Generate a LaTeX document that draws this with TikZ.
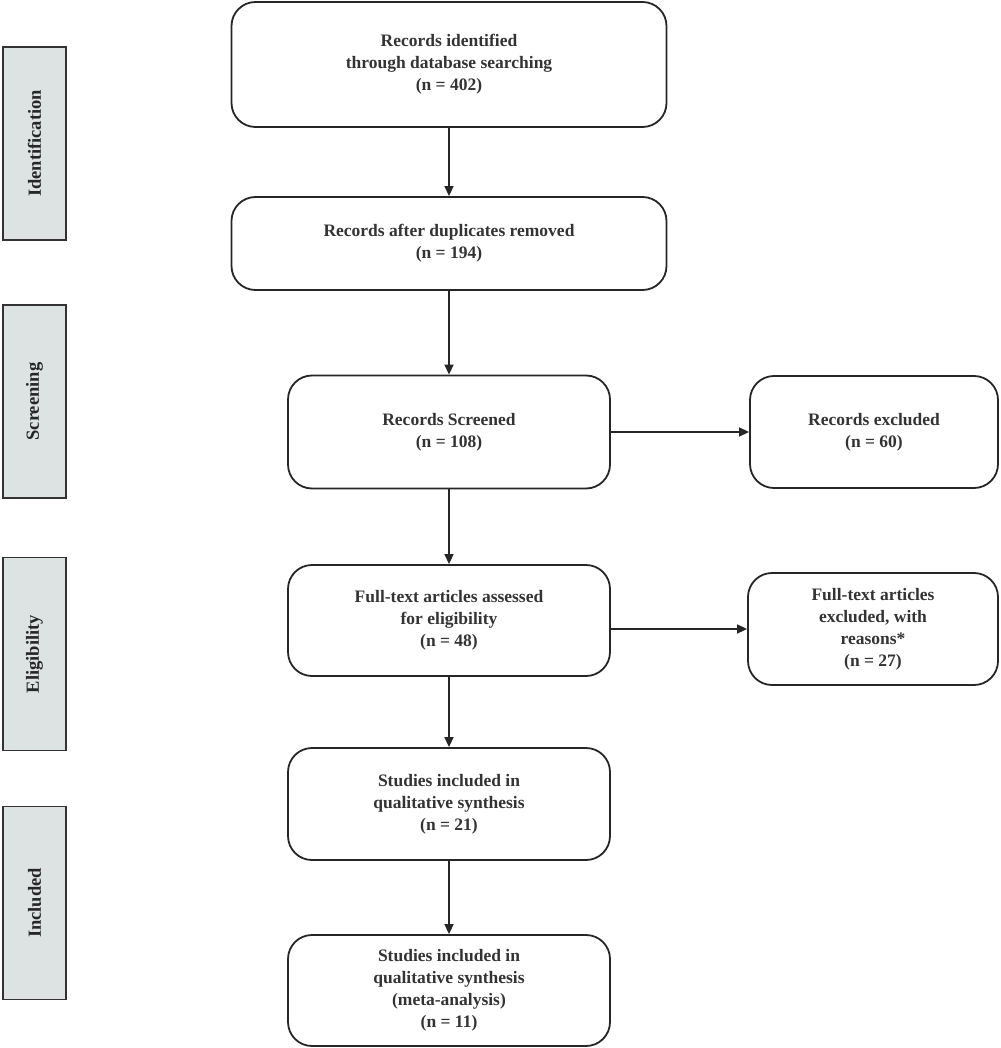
\documentclass[tikz,border=0pt]{standalone}
\usepackage{fontspec}
\setmainfont{Liberation Serif}
\usetikzlibrary{arrows.meta}
\definecolor{txt}{HTML}{333333}
\definecolor{bar}{HTML}{DDE3E3}
\begin{document}
\begin{tikzpicture}[x=1pt,y=-1pt,
  box/.style={draw=black!85,line width=1.8pt,rounded corners=24pt,align=center,
    font=\fontsize{17.5}{22}\selectfont\bfseries,text=txt,inner sep=0pt},
  side/.style={draw=black!80,fill=bar,line width=1.3pt,minimum width=63pt,minimum height=193pt,inner sep=0pt},
  sidelab/.style={rotate=90,font=\fontsize{18.5}{20}\selectfont\bfseries,text=black!85},
  arr/.style={-{Triangle[length=10pt,width=9pt]},line width=1.5pt,draw=black!85}]
\useasboundingbox (0,0) rectangle (1000,1048);
% side bars
\node[side] (s1) at (34.5,143.5) {};
\node[sidelab] (l1) at (s1.center) {Identification};
\node[side] (s2) at (34.5,401.5) {};
\node[sidelab] (l2) at (s2.center) {Screening};
\node[side] (s3) at (34.5,654) {};
\node[sidelab] (l3) at (s3.center) {Eligibility};
\node[side] (s4) at (34.5,903) {};
\node[sidelab] (l4) at (s4.center) {Included};
% boxes
\node[box,minimum width=435pt,minimum height=125pt] (b1) at (449,64.5)
  {Records identified\\through database searching\\(n = 402)};
\node[box,minimum width=435pt,minimum height=93pt] (b2) at (449,243.5)
  {Records after duplicates removed\\(n = 194)};
\node[box,minimum width=322pt,minimum height=113pt] (b3) at (449,432)
  {Records Screened\\(n = 108)};
\node[box,minimum width=248pt,minimum height=112pt] (b4) at (874,432)
  {Records excluded\\(n = 60)};
\node[box,minimum width=322pt,minimum height=111pt] (b5) at (449,620.5)
  {Full-text articles assessed\\for eligibility\\(n = 48)};
\node[box,minimum width=250pt,minimum height=112pt] (b6) at (873,629)
  {Full-text articles\\excluded, with\\reasons*\\(n = 27)};
\node[box,minimum width=322pt,minimum height=112pt] (b7) at (449,804)
  {Studies included in\\qualitative synthesis\\(n = 21)};
\node[box,minimum width=322pt,minimum height=111pt] (b8) at (449,990.5)
  {Studies included in\\qualitative synthesis\\(meta-analysis)\\(n = 11)};
% arrows
\draw[arr] (b1) -- (b2);
\draw[arr] (b2) -- (b3);
\draw[arr] (b3) -- (b5);
\draw[arr] (b5) -- (b7);
\draw[arr] (b7) -- (b8);
\draw[arr] (b3) -- (b4);
\draw[arr] (b5.east |- b6.west) -- (b6.west);
\end{tikzpicture}
\end{document}
